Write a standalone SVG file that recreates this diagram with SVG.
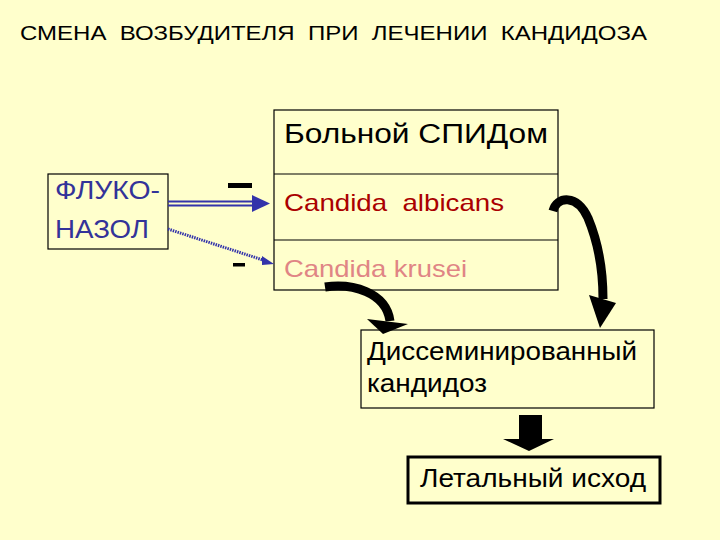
<svg xmlns="http://www.w3.org/2000/svg" width="720" height="540" viewBox="0 0 720 540">
<style>
  text { font-family: "Liberation Sans", Arial, sans-serif; white-space: pre; }
  .box { fill: #FFFFCC; stroke: #000; stroke-width: 1.2; }
  .blk { fill: #000; }
  .curve { fill: none; stroke: #000; stroke-width: 9; stroke-linecap: butt; }
  .blue { stroke: #3333AA; }
</style>
<rect x="0" y="0" width="720" height="540" fill="#FFFFCC"/>
<text x="20" y="40" font-size="21" textLength="627" lengthAdjust="spacingAndGlyphs" fill="#000" xml:space="preserve">СМЕНА  ВОЗБУДИТЕЛЯ  ПРИ  ЛЕЧЕНИИ  КАНДИДОЗА</text>

<g id="fluconazole">
  <rect class="box" x="48" y="174" width="120" height="75"/>
  <text x="55" y="199" font-size="25" fill="#333399" textLength="105" lengthAdjust="spacingAndGlyphs">ФЛУКО-</text>
  <text x="55" y="238" font-size="25" fill="#333399" textLength="94" lengthAdjust="spacingAndGlyphs">НАЗОЛ</text>
</g>

<g id="patient">
  <rect class="box" x="274" y="110" width="284" height="180"/>
  <line x1="274" y1="174" x2="558" y2="174" stroke="#000" stroke-width="1.2"/>
  <line x1="274" y1="240" x2="558" y2="240" stroke="#000" stroke-width="1.2"/>
  <text x="284" y="143" font-size="27" fill="#000" textLength="264" lengthAdjust="spacingAndGlyphs">Больной СПИДом</text>
</g>
<g id="albicans">
  <text x="284" y="211" font-size="24" fill="#AA0000" textLength="220" lengthAdjust="spacingAndGlyphs" xml:space="preserve">Candida  albicans</text>
</g>
<g id="krusei">
  <text x="284" y="277" font-size="24" fill="#E08585" textLength="183" lengthAdjust="spacingAndGlyphs">Candida krusei</text>
</g>

<g id="disseminated">
  <rect class="box" x="361" y="330" width="293" height="78"/>
  <text x="367" y="360" font-size="25" fill="#000" textLength="270" lengthAdjust="spacingAndGlyphs">Диссеминированный</text>
  <text x="367" y="392" font-size="25" fill="#000" textLength="120" lengthAdjust="spacingAndGlyphs">кандидоз</text>
</g>

<g id="lethal">
  <rect x="408" y="457" width="252" height="46" fill="#FFFFCC" stroke="#000" stroke-width="3"/>
  <text x="420" y="487" font-size="25" fill="#000" textLength="226" lengthAdjust="spacingAndGlyphs">Летальный исход</text>
</g>

<g id="connectors">
  <!-- double blue arrow -->
  <line class="blue" x1="168" y1="201.5" x2="256" y2="201.5" stroke-width="2"/>
  <line class="blue" x1="168" y1="205.5" x2="256" y2="205.5" stroke-width="2"/>
  <polygon points="252,195 270,203.5 252,212" fill="#3333AA"/>
  <rect x="228" y="183" width="24" height="5" fill="#000"/>
  <!-- dotted blue arrow -->
  <line x1="168" y1="229" x2="266" y2="261" stroke="#3333AA" stroke-width="3" stroke-dasharray="1.5 1"/>
  <polygon points="262,256 274,264 262,265" fill="#3333AA"/>
  <rect x="233" y="263" width="12" height="3.5" fill="#000"/>
  <!-- curved arrow albicans -> disseminated -->
  <path class="curve" d="M553,211 C557,196 577,194 588,218 C598,242 603,270 603,299"/>
  <polygon class="blk" points="589,295 616,303 600,328"/>
  <!-- curved arrow krusei -> disseminated -->
  <path class="curve" d="M325,287 C352,283 386,292 390,321"/>
  <polygon class="blk" points="367,319 408,324 383,334"/>
  <!-- block arrow down -->
  <polygon class="blk" points="519,415 542,415 542,439 554,439 529,451 503,439 519,439"/>
</g>
</svg>
